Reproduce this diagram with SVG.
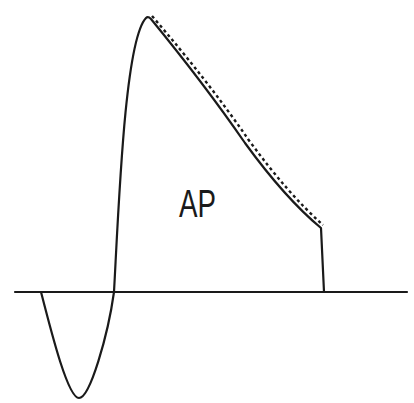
<svg xmlns="http://www.w3.org/2000/svg" width="414" height="403" viewBox="0 0 414 403">
<style>
.ln{fill:none;stroke:#1a1a1a;stroke-width:2.2;stroke-linecap:round;stroke-linejoin:round}
.dash{fill:none;stroke:#1a1a1a;stroke-width:2.4;stroke-dasharray:3 3}
.lbl{font-family:"Liberation Sans",Arial,sans-serif;fill:#1a1a1a}
</style>
<rect width="414" height="403" fill="#ffffff"/>
<g id="connectors">
<line id="baseline" class="ln" x1="15" y1="292" x2="407" y2="292"/>
<path id="ap-curve" class="ln" d="M41,292 C52,335 68,398 79,398 C90,398 108,335 114,292 C119,200 125,40 146,18 Q148,16 151,19 Q205,85 245,143 Q285,198 321,228 L324,292"/>
<path id="ap-dashed" class="dash" d="M152,16 Q208,81 248,139 Q288,194 323,225"/>
</g>
<g id="label-ap">
<text class="lbl" x="179" y="217" font-size="39" textLength="37" lengthAdjust="spacingAndGlyphs">AP</text>
</g>
</svg>
